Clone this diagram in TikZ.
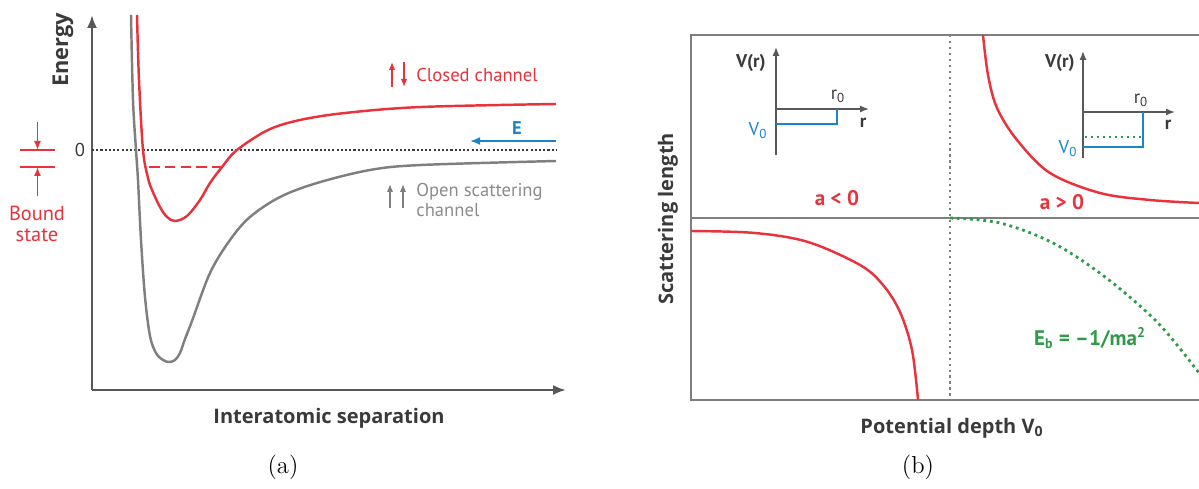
\documentclass[tikz,border=0pt]{standalone}
\usepackage{fontspec}
\setsansfont{PT Sans}
\newfontfamily\headfont{Open Sans}
\usetikzlibrary{arrows.meta, positioning, calc}
\definecolor{chred}{HTML}{E8323C}
\definecolor{chgray}{HTML}{7F7F7F}
\definecolor{chblue}{HTML}{1A86C8}
\definecolor{chgreen}{HTML}{2E9B48}
\definecolor{txtdark}{HTML}{3A3A3A}
\tikzset{
  axisline/.style={draw=txtdark!85, line width=1.3pt, -{Latex[length=2.6mm,width=2mm]}},
  insetaxis/.style={draw=txtdark!85, line width=0.8pt, -{Latex[length=1.8mm,width=1.4mm]}},
  frameline/.style={draw=chgray, line width=1.1pt},
  zeroline/.style={draw=txtdark, dash pattern=on 1.2pt off 1.2pt, line width=0.7pt},
  redcurve/.style={draw=chred, line width=1.4pt},
  graycurve/.style={draw=chgray, line width=1.4pt},
  lbl/.style={font=\sffamily\fontsize{10.6}{11.5}\selectfont, inner sep=0pt},
  boldlbl/.style={font=\headfont\bfseries\fontsize{11.4}{13}\selectfont, text=txtdark, inner sep=0pt},
  smallbold/.style={font=\sffamily\bfseries\fontsize{10.5}{12}\selectfont, inner sep=0pt},
  caption/.style={font=\fontsize{14}{16}\selectfont, inner sep=0pt}
}

\begin{document}
\begin{tikzpicture}[x=0.02cm, y=-0.02cm]
    \useasboundingbox (0,0) rectangle (1199,489);

    % (a) potential curves
    \coordinate (origA) at (92,390);
    \draw[axisline] (origA) -- (92,15);
    \draw[axisline] (origA) -- (566,390);
    \node[boldlbl, rotate=90, font=\headfont\bfseries\fontsize{12.4}{14}\selectfont] (energy) at (63,50) {Energy};
    \node[lbl, text=txtdark] (zero) at (80,150) {0};
    \draw[zeroline] (92,150) -- (556,150);

    \draw[graycurve] plot[smooth, tension=0.55] coordinates {(131,15) (133,100) (136,150)
      (138,180) (141,240) (145,297) (150,336) (156,353) (163,360) (169,362) (175,360)
      (180,353) (185,339) (192,321) (210,273) (230,240) (250,217) (280,197) (317,183)
      (370,170) (421,165) (556,161)};
    \draw[redcurve] plot[smooth, tension=0.55] coordinates {(137,15) (139,80) (143,150)
      (148,178) (152,190) (160,207) (167,217) (175,221) (187,216) (200,200) (210,183)
      (222,167) (237,150) (268,130) (300,120) (345,113) (421,107) (556,104)};
    \draw[redcurve, dash pattern=on 6pt off 3pt, line width=1.3pt] (149,167) -- (222,167);

    % bound state marker
    \draw[chred, line width=0.9pt] (20,150) -- (55,150);
    \draw[chred, line width=0.9pt] (20,167) -- (55,167);
    \coordinate (bsTop) at (37.5,122);
    \coordinate (bsBot) at (37.5,196);
    \draw[chred, line width=0.8pt, -{Latex[length=1.8mm,width=1.4mm]}] (bsTop) -- (37.5,150);
    \draw[chred, line width=0.8pt, -{Latex[length=1.8mm,width=1.4mm]}] (bsBot) -- (37.5,167);
    \node[lbl, text=chred, align=center, font=\sffamily\fontsize{11.6}{12}\selectfont] (bound) at (37,224) {Bound\\state};

    % channel labels
    \draw[chred, line width=0.8pt, -{Latex[length=1.6mm,width=1.3mm]}] (392,87) -- (392,62);
    \draw[chred, line width=0.8pt, -{Latex[length=1.6mm,width=1.3mm]}] (404,62) -- (404,87);
    \node[lbl, text=chred, anchor=west] (closed) at (416,75) {Closed channel};
    \node[smallbold, text=chblue] (energyE) at (517,128) {E};
    \coordinate (eStart) at (556,141);
    \draw[chblue, line width=1pt, -{Latex[length=2mm,width=1.6mm]}] (eStart) -- (470,141);
    \draw[chgray, line width=0.8pt, -{Latex[length=1.6mm,width=1.3mm]}] (390,208) -- (390,184);
    \draw[chgray, line width=0.8pt, -{Latex[length=1.6mm,width=1.3mm]}] (403,208) -- (403,184);
    \node[lbl, text=chgray!90, anchor=north west, align=left] (open) at (416,183) {Open scattering\\channel};

    \node[boldlbl] (sep) at (329,418) {Interatomic separation};
    \node[caption] (capa) at (283,467) {(a)};

    % (b) scattering length
    \draw[frameline] (1199,35) -- (691,35) -- (691,400) -- (1199,400);
    \draw[frameline] (691,218) -- (1199,218);
    \draw[draw=chgray, dash pattern=on 1.2pt off 2.2pt, line width=0.9pt] (950,35) -- (950,400);

    \draw[redcurve] plot[smooth, tension=0.55] coordinates {(691,231) (755,233) (808,242)
      (860,265) (883,285) (900,312) (912,350) (918,400)};
    \draw[redcurve] plot[smooth, tension=0.55] coordinates {(983,35) (988,75) (997,108)
      (1017,140) (1050,173) (1100,193) (1150,200) (1199,203)};
    \draw[chgreen, line width=1.6pt, dash pattern=on 1.6pt off 2.2pt] plot[smooth, tension=0.55]
      coordinates {(950,218) (1000,223) (1053,243) (1105,277) (1158,323) (1199,373)};

    % inset a<0
    \draw[insetaxis] (776,155) -- (776,47);
    \draw[insetaxis] (776,109) -- (869,109);
    \draw[chblue, line width=1.3pt] (776,124) -- (837,124) -- (837,109);
    \node[smallbold, text=txtdark, anchor=east] (vr1) at (766,63) {V(r)};
    \node[lbl, text=txtdark] (rz1) at (838,96) {r\textsubscript{0}};
    \node[smallbold, text=txtdark] (r1) at (863,123) {r};
    \node[lbl, text=chblue] (vz1) at (758,131) {V\textsubscript{0}};
    \node[smallbold, text=chred, font=\sffamily\bfseries\fontsize{12}{14}\selectfont] (aneg) at (837,198) {a < 0};

    % inset a>0
    \draw[insetaxis] (1083,158) -- (1083,51);
    \draw[insetaxis] (1083,112) -- (1175,112);
    \draw[chblue, line width=1.3pt] (1083,147) -- (1143,147) -- (1143,112);
    \draw[chgreen, line width=1.4pt, dash pattern=on 1.4pt off 2pt] (1085,137) -- (1141,137);
    \node[smallbold, text=txtdark, anchor=east] (vr2) at (1075,63) {V(r)};
    \node[lbl, text=txtdark] (rz2) at (1141,100) {r\textsubscript{0}};
    \node[smallbold, text=txtdark] (r2) at (1168,125) {r};
    \node[lbl, text=chblue] (vz2) at (1068,149) {V\textsubscript{0}};
    \node[smallbold, text=chred, font=\sffamily\bfseries\fontsize{12}{14}\selectfont] (apos) at (1062,202) {a > 0};

    \node[smallbold, text=chgreen, font=\sffamily\bfseries\fontsize{12}{14}\selectfont] (ebind) at (1090,338) {E\textsubscript{b} = –1/ma\textsuperscript{2}};
    \node[boldlbl] (depth) at (952,428) {Potential depth V\textsubscript{0}};
    \node[boldlbl, rotate=90] (scatlen) at (668,219) {Scattering length};
    \node[caption] (capb) at (918,467) {(b)};
\end{tikzpicture}
\end{document}
